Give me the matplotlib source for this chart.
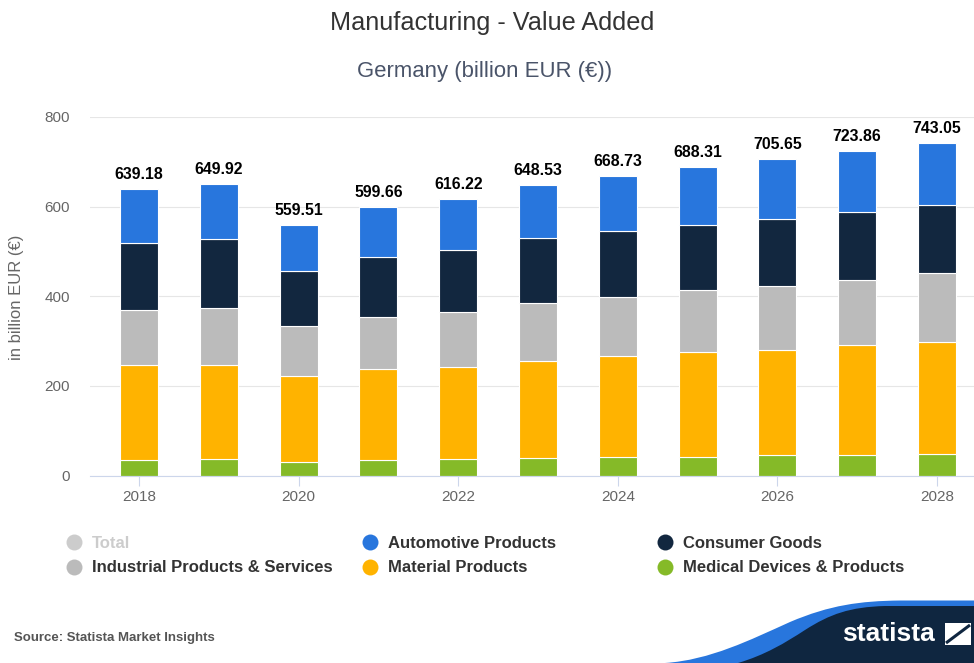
import matplotlib
matplotlib.use("Agg")
import matplotlib.pyplot as plt
from matplotlib.path import Path
from matplotlib.patches import PathPatch, Rectangle
import numpy as np

plt.rcParams["font.family"] = ["Liberation Sans", "DejaVu Sans"]

# ---- data (billion EUR) ----
years = [2018, 2019, 2020, 2021, 2022, 2023, 2024, 2025, 2026, 2027, 2028]
medical = [35, 37, 31, 35, 37, 39, 42, 42, 45, 45, 48]
material = [211, 209, 191, 202, 205, 217, 224, 233, 236, 246, 251]
industrial = [123, 127, 112, 117, 122, 129, 133, 138, 141, 145, 153]
consumer = [150, 155, 123, 133, 140, 144, 146, 147, 151, 152, 151]
automotive = [120.18, 121.92, 102.51, 112.66, 112.22, 119.53,
              123.73, 128.31, 132.65, 135.86, 140.05]

series_names = ["Medical Devices & Products", "Material Products",
                "Industrial Products & Services", "Consumer Goods",
                "Automotive Products"]
series_values = [medical, material, industrial, consumer, automotive]
series_colors = ["#85ba28", "#ffb300", "#bbbbbb", "#12273f", "#2876dd"]

legend_order = ["Total", "Automotive Products", "Consumer Goods",
                "Industrial Products & Services", "Material Products",
                "Medical Devices & Products"]
legend_colors = {"Total": "#cccccc"}
legend_colors.update(dict(zip(series_names, series_colors)))

y_ticks = [0, 200, 400, 600, 800]

# ---- figure ----
W, H = 974, 663
fig = plt.figure(figsize=(W / 100, H / 100), dpi=100)
fig.patch.set_facecolor("white")


def fx(px):
    return px / W


def fy(py):
    return 1 - py / H


ax = fig.add_axes([fx(90), fy(475.5), fx(974) - fx(90), fy(117) - fy(475.5)])

x = np.arange(len(years))
bottom = np.zeros(len(years))
for name, vals, color in zip(series_names, series_values, series_colors):
    vals = np.asarray(vals, dtype=float)
    ax.bar(x, vals, width=0.476, bottom=bottom, color=color,
           edgecolor="white", linewidth=0.8, zorder=3)
    bottom = bottom + vals

totals = bottom
for xi, t in zip(x, totals):
    ax.annotate(f"{t:.2f}", (xi, t), xytext=(0, 5), textcoords="offset points",
                ha="center", va="bottom", fontsize=11.4, fontweight="bold",
                color="#000000", zorder=4)

ax.set_xlim((90 - 139) / 79.8, (974 - 139) / 79.8)
ax.set_ylim(0, 800)
ax.set_yticks(y_ticks)
ax.set_yticklabels([str(v) for v in y_ticks])
ax.set_xticks(x[::2])
ax.set_xticklabels([str(years[i]) for i in x[::2]])

ax.yaxis.grid(True, color="#e6e6e6", linewidth=0.8)
ax.set_axisbelow(True)
for s in ["top", "right", "left"]:
    ax.spines[s].set_visible(False)
ax.spines["bottom"].set_color("#ccd6eb")
ax.spines["bottom"].set_linewidth(0.8)
ax.spines["bottom"].set_zorder(5)

ax.tick_params(axis="y", length=0, pad=14.4, labelsize=11, labelcolor="#666666")
ax.tick_params(axis="x", length=7.2, width=0.8, color="#ccd6eb", pad=3.5,
               labelsize=11, labelcolor="#666666")

# ---- titles ----
fig.text(fx(492), fy(23), "Manufacturing - Value Added", ha="center",
         va="center", fontsize=18.2, color="#333333")
fig.text(fx(485), fy(72), "Germany (billion EUR (\u20ac))", ha="center",
         va="center", fontsize=15.9, color="#4a5469")
fig.text(fx(17), fy(297), "in billion EUR (\u20ac)", rotation=90, ha="center",
         va="center", fontsize=12, color="#666666")

# ---- overlay in pixel coordinates for legend, source and logo ----
ov = fig.add_axes([0, 0, 1, 1], zorder=10)
ov.set_xlim(0, W)
ov.set_ylim(H, 0)
ov.axis("off")
ov.patch.set_visible(False)

col_x = [74, 370, 665]
row_y = [542, 567]
for i, name in enumerate(legend_order):
    cx = col_x[i % 3]
    cy = row_y[i // 3]
    ov.plot([cx], [cy], marker="o", markersize=11.5, color=legend_colors[name],
            markeredgewidth=0, linestyle="none")
    tcolor = "#cccccc" if name == "Total" else "#333333"
    ov.text(cx + 18, cy + 1, name, ha="left", va="center", fontsize=12,
            fontweight="bold", color=tcolor)

ov.text(14, 638, "Source: Statista Market Insights", ha="left", va="center",
        fontsize=9.5, fontweight="bold", color="#555555")

# logo swoosh
blue_verts = [(665, 663), (710, 660), (750, 640), (790, 622),
              (830, 605), (860, 601), (900, 600.5),
              (974, 600.5), (974, 663), (665, 663)]
blue_codes = [Path.MOVETO, Path.CURVE4, Path.CURVE4, Path.CURVE4,
              Path.CURVE4, Path.CURVE4, Path.CURVE4,
              Path.LINETO, Path.LINETO, Path.CLOSEPOLY]
ov.add_patch(PathPatch(Path(blue_verts, blue_codes), facecolor="#2876dd",
                       edgecolor="none"))
navy_verts = [(738, 663), (765, 655), (785, 643), (805, 630),
              (830, 614), (850, 607), (885, 606),
              (974, 606), (974, 663), (738, 663)]
ov.add_patch(PathPatch(Path(navy_verts, blue_codes), facecolor="#0f2640",
                       edgecolor="none"))
ov.text(888, 634, "statista", ha="center", va="center", fontsize=19,
        fontweight="bold", color="white")
ov.add_patch(Rectangle((945, 623), 26, 22, facecolor="white", edgecolor="none"))
ov.plot([946, 970], [643, 625], color="#0f2640", linewidth=2.2,
        solid_capstyle="butt")

fig.savefig("out.png", dpi=100, facecolor="white")
